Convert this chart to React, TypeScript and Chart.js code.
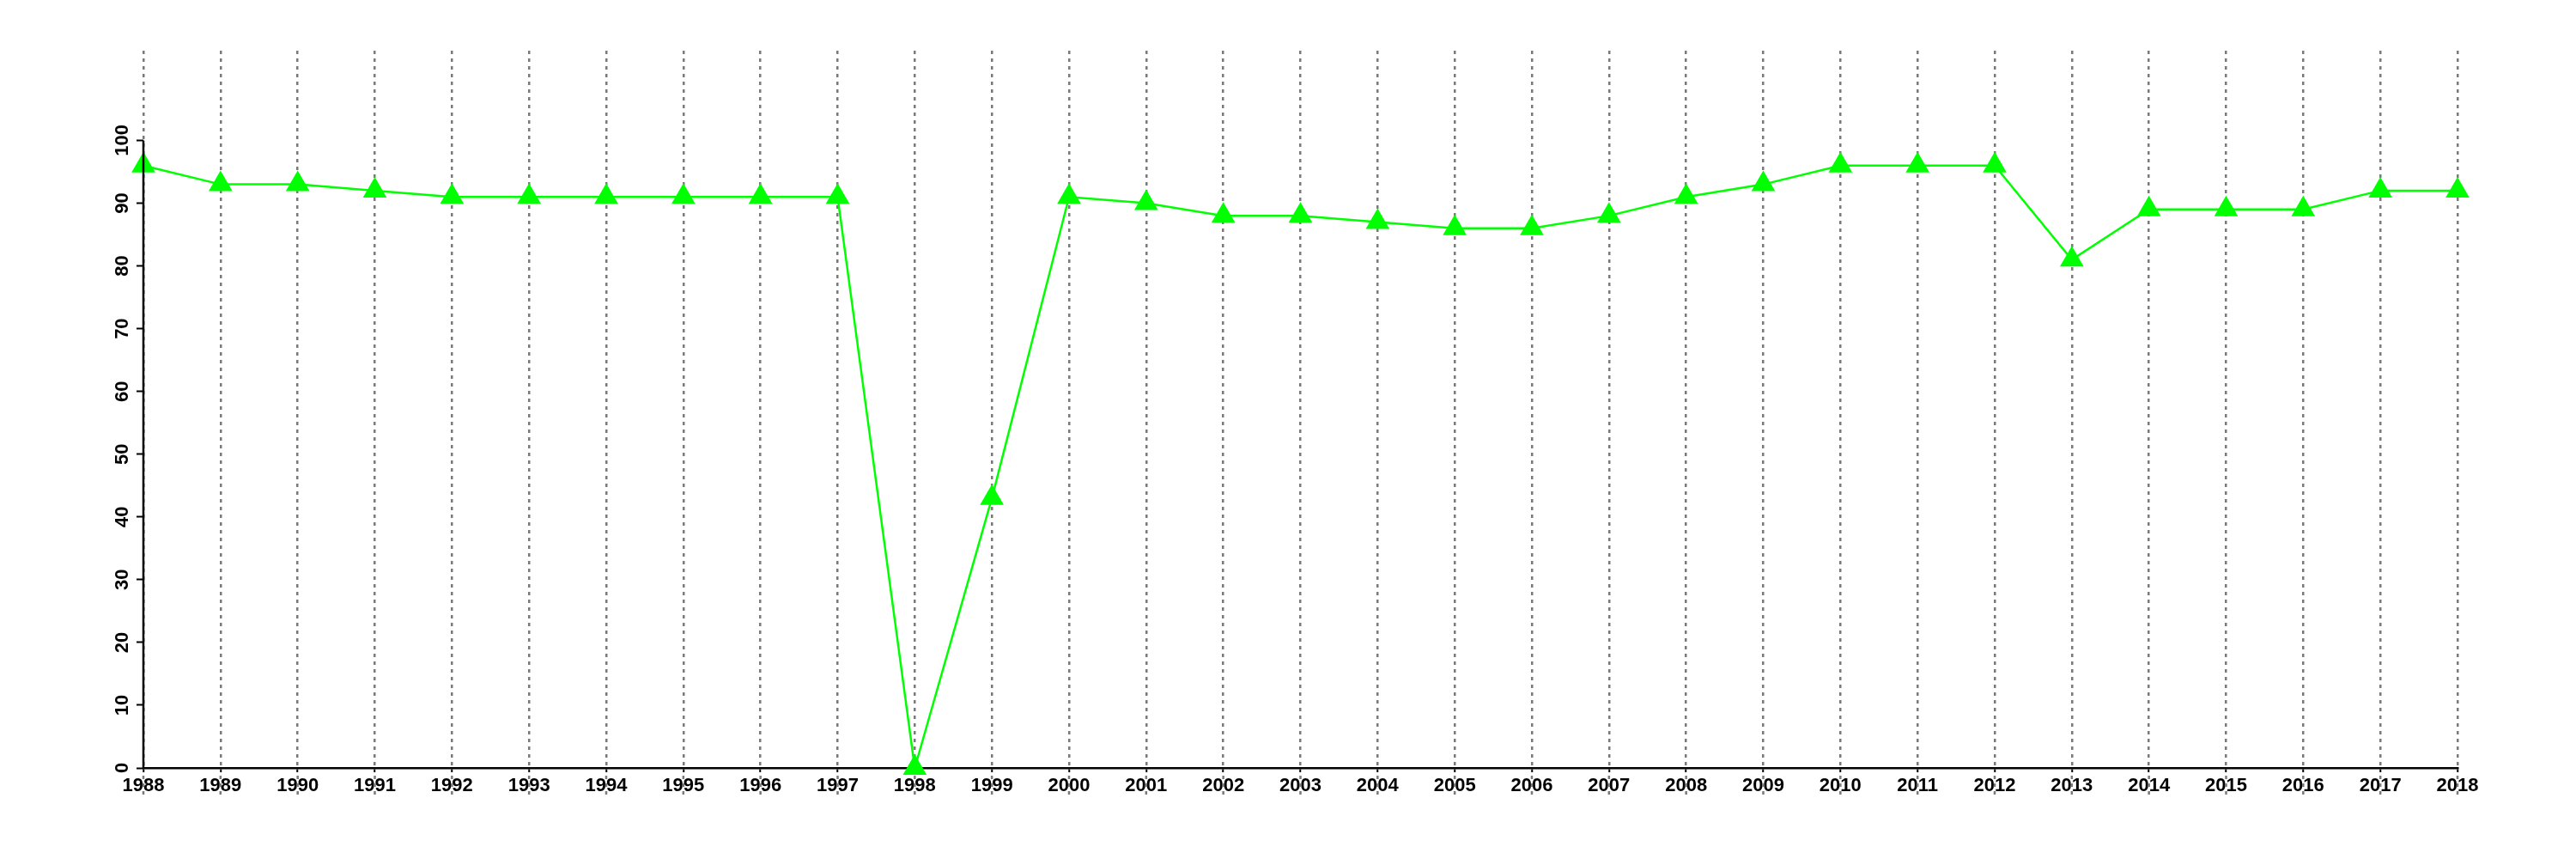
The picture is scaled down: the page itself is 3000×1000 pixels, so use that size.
import React, { useEffect, useRef } from 'react';
import { Chart, registerables } from 'chart.js';

Chart.register(...registerables);

const years = [
  '1988', '1989', '1990', '1991', '1992', '1993', '1994', '1995', '1996', '1997',
  '1998', '1999', '2000', '2001', '2002', '2003', '2004', '2005', '2006', '2007',
  '2008', '2009', '2010', '2011', '2012', '2013', '2014', '2015', '2016', '2017', '2018',
];
const values = [
  96, 93, 93, 92, 91, 91, 91, 91, 91, 91,
  0, 43, 91, 90, 88, 88, 87, 86, 86, 88,
  91, 93, 96, 96, 96, 81, 89, 89, 89, 92, 92,
];
const yTicks = [0, 10, 20, 30, 40, 50, 60, 70, 80, 90, 100];

const GREEN = '#00ff00';
const GRID = '#7a7a7a';
const FONT = { family: '"Liberation Sans", Arial, sans-serif', size: 22, weight: 'bold' as const };

const axisExtras = {
  id: 'axisExtras',
  afterDraw(chart: any) {
    const { ctx, scales } = chart;
    const x = scales.x;
    const y = scales.y;
    const y0 = y.getPixelForValue(yTicks[0]);
    const yTop = y.getPixelForValue(yTicks[yTicks.length - 1]);
    ctx.save();
    // dotted grid extension below the x axis
    ctx.strokeStyle = GRID;
    ctx.lineWidth = 2.5;
    ctx.setLineDash([4, 5]);
    for (let i = 0; i < x.ticks.length; i++) {
      const px = x.getPixelForTick(i);
      ctx.beginPath();
      ctx.moveTo(px, y0 + 9);
      ctx.lineTo(px, y0 + 33);
      ctx.stroke();
    }
    // y axis line from 0 to 100
    ctx.setLineDash([]);
    ctx.strokeStyle = '#000';
    ctx.lineWidth = 2.5;
    const lx = x.left;
    ctx.beginPath();
    ctx.moveTo(lx, y0 + 1);
    ctx.lineTo(lx, yTop);
    ctx.stroke();
    ctx.restore();
  },
};

export default function App() {
  const ref = useRef<HTMLCanvasElement | null>(null);

  useEffect(() => {
    if (!ref.current) return;
    const chart = new Chart(ref.current, {
      type: 'line',
      data: {
        labels: years,
        datasets: [
          {
            data: values,
            borderColor: GREEN,
            backgroundColor: GREEN,
            borderWidth: 2.5,
            tension: 0,
            pointStyle: 'triangle',
            pointRadius: 16,
            pointHoverRadius: 16,
            pointBackgroundColor: GREEN,
            pointBorderWidth: 0,
            clip: false as any,
          },
        ],
      },
      options: {
        responsive: false,
        animation: false,
        events: [],
        layout: { padding: { top: 59, right: 138, left: 0, bottom: 0 } },
        plugins: { legend: { display: false }, tooltip: { enabled: false } },
        scales: {
          x: {
            z: 1,
            offset: false,
            grid: {
              display: true,
              drawOnChartArea: true,
              drawTicks: true,
              color: GRID,
              lineWidth: 2.5,
              tickLength: 5,
              tickColor: '#000',
              tickWidth: 2,
              tickBorderDash: [],
            } as any,
            border: { display: true, color: '#000', width: 2.5, dash: [4, 5] },
            ticks: {
              color: '#000',
              font: FONT,
              padding: 3,
              maxRotation: 0,
              minRotation: 0,
              autoSkip: false,
            },
            afterFit: (s: any) => {
              s.height = 106;
            },
          },
          y: {
            z: 1,
            min: 0,
            max: 114.3,
            grid: {
              display: true,
              drawOnChartArea: false,
              drawTicks: true,
              tickLength: 8,
              tickColor: '#000',
              tickWidth: 2,
            },
            border: { display: false },
            afterBuildTicks: (s: any) => {
              s.ticks = yTicks.map((v) => ({ value: v }));
            },
            ticks: {
              color: '#000',
              font: FONT,
              padding: -2,
              minRotation: 90,
              maxRotation: 90,
              crossAlign: 'center',
              autoSkip: false,
            },
            afterFit: (s: any) => {
              s.width = 167;
            },
          },
        },
      },
      plugins: [axisExtras],
    });
    return () => chart.destroy();
  }, []);

  return (
    <div style={{ position: 'fixed', left: 0, top: 0, width: 3000, height: 1000, background: '#fff' }}>
      <canvas ref={ref} width={3000} height={1000} style={{ display: 'block' }} />
    </div>
  );
}
